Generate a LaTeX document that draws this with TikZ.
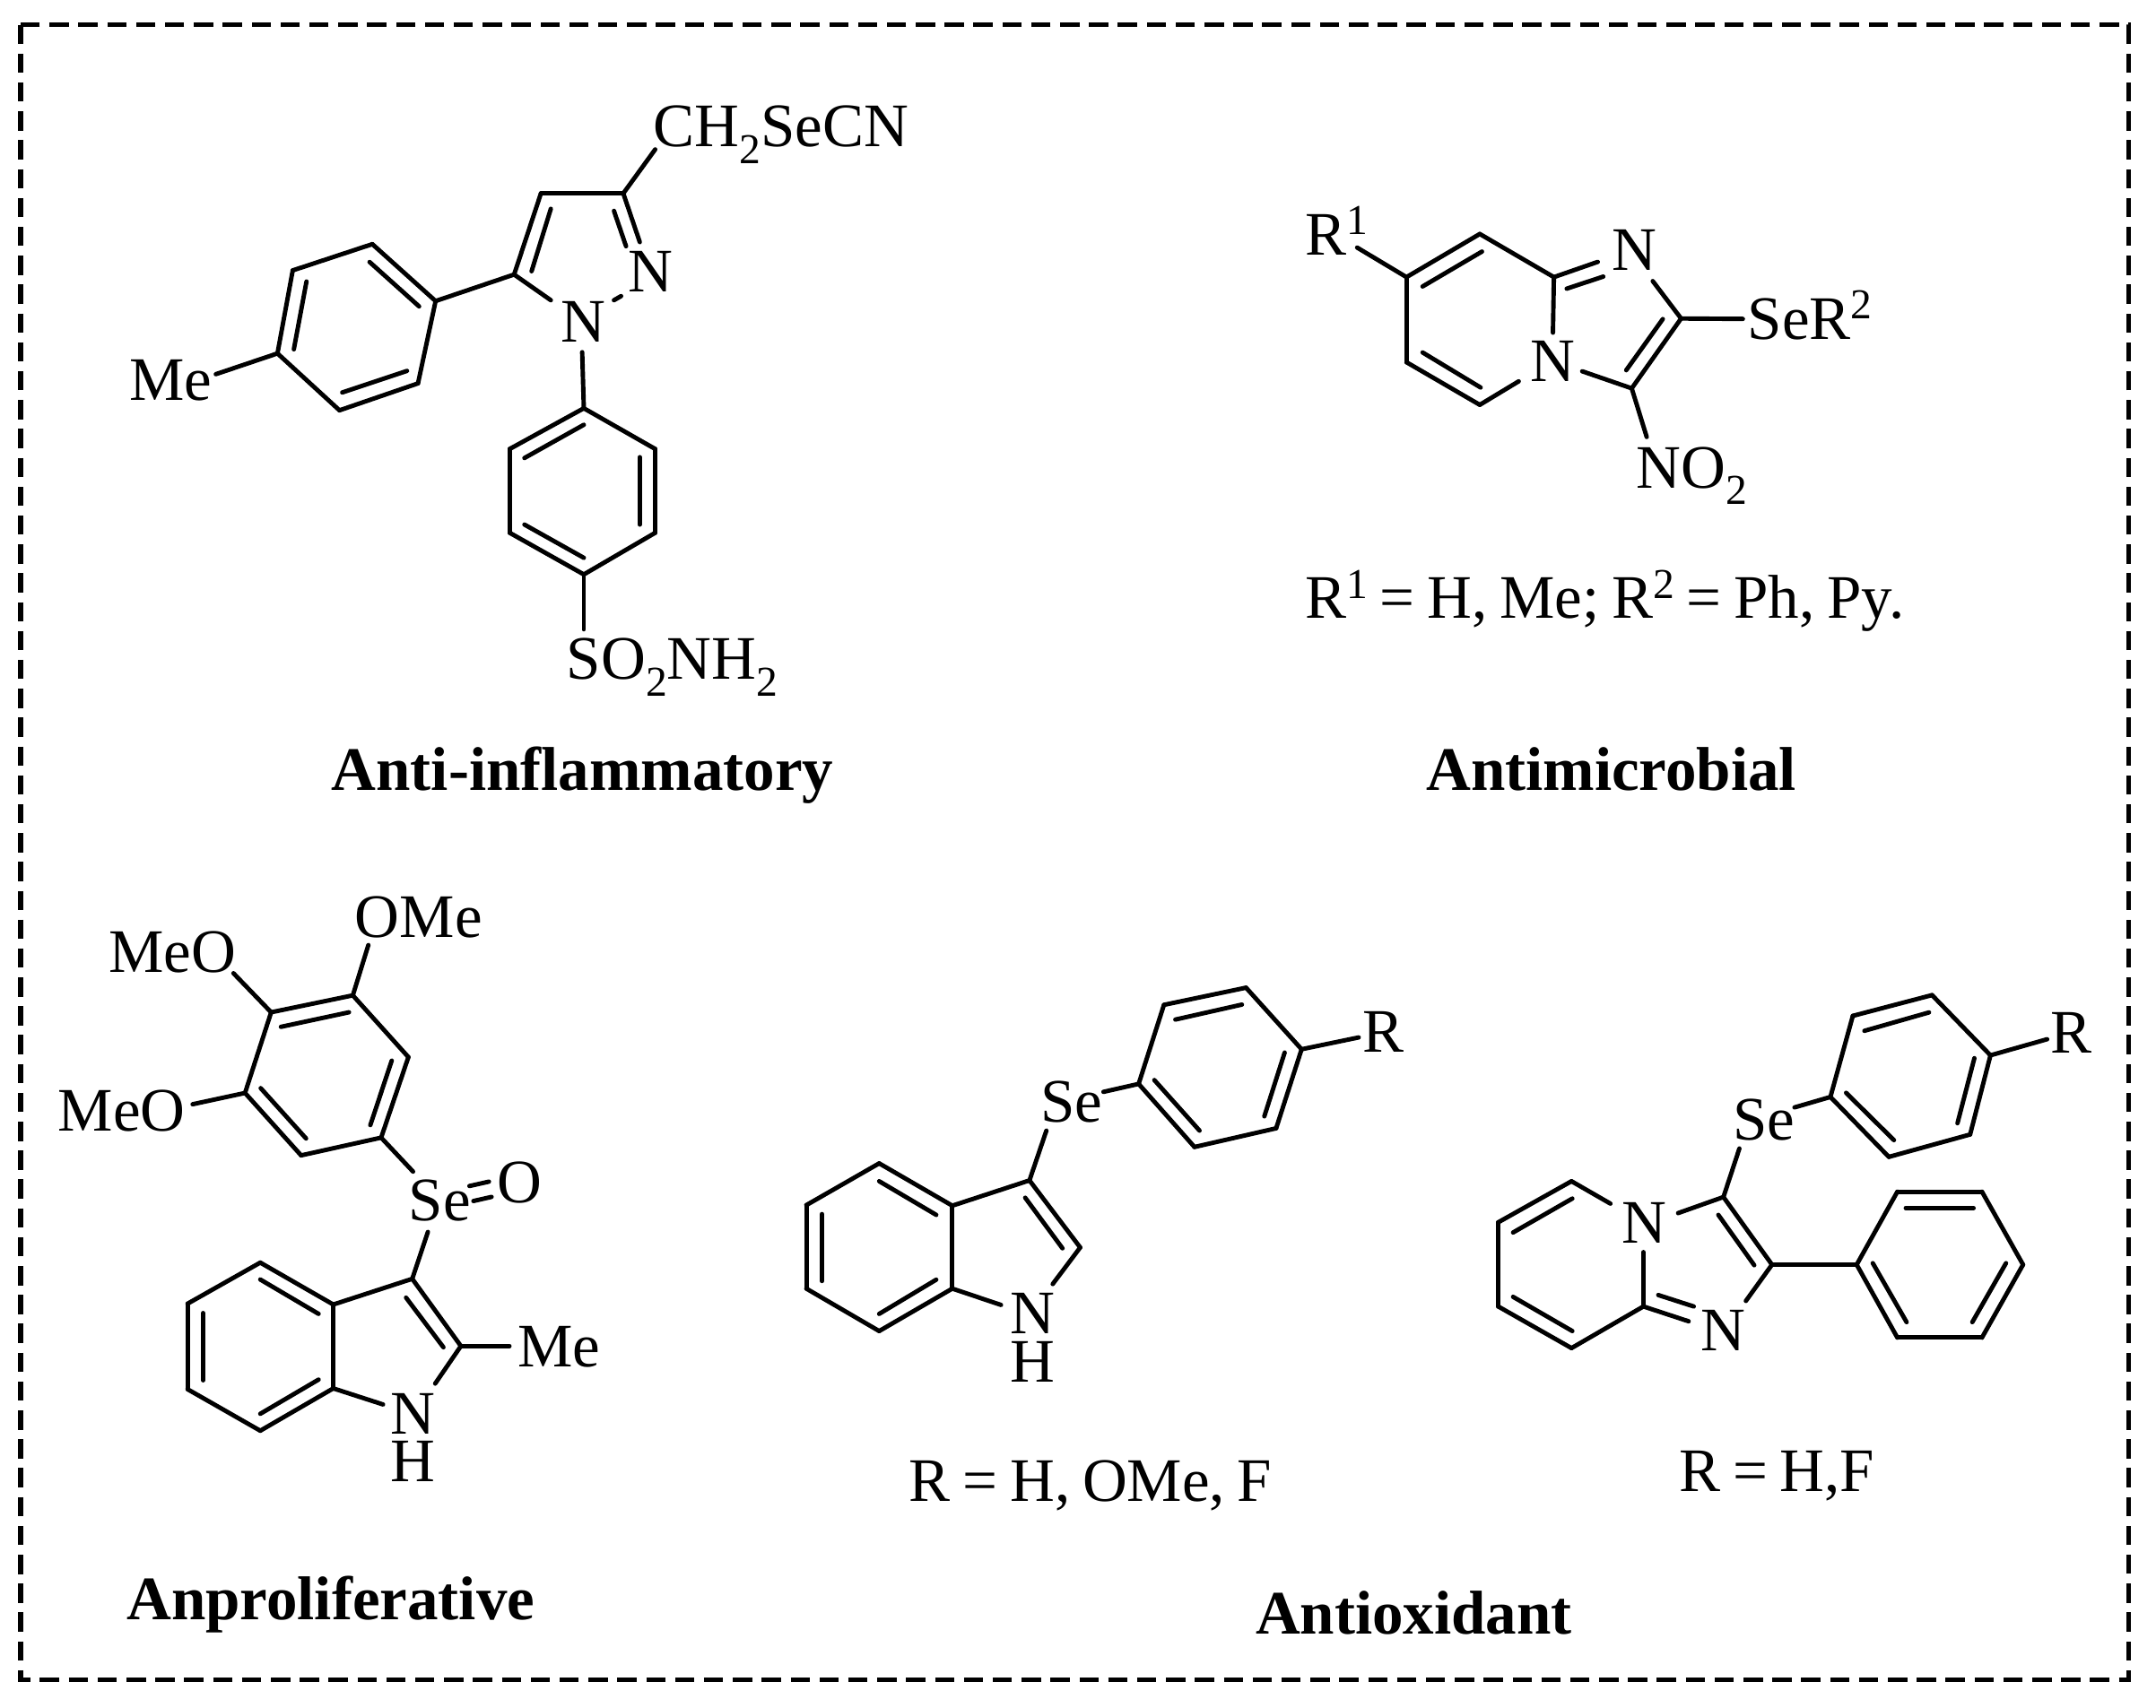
\documentclass[tikz,border=0pt]{standalone}
\usepackage{fontspec}
\setmainfont{Liberation Serif}
\newcommand{\dn}[1]{\raisebox{-0.27em}{\fontsize{31}{31}\selectfont #1}}
\newcommand{\up}[1]{\raisebox{0.33em}{\fontsize{31}{31}\selectfont #1}}
\tikzset{
  bond/.style={line width=3.2pt, line cap=round},
  frame/.style={line width=3.4pt, dash pattern=on 14pt off 7pt},
  atom/.style={inner sep=0pt, anchor=base west, font=\fontsize{45}{35}\selectfont},
  subst/.style={atom, execute at begin node={\spaceskip=0.2em\relax}},
  title/.style={inner sep=0pt, anchor=base west, font=\fontsize{45}{45}\selectfont\bfseries}
}
\begin{document}
\begin{tikzpicture}[x=1pt, y=-1pt]
  \useasboundingbox (0,0) rectangle (1568,1242.5);
  % Draw the dashed frame
  \draw[frame] (15,18) rectangle (1548,1222);

  % Anti-inflammatory molecule
  \foreach \pn/\px/\py in {a1/393.4/140.7, a2/453.3/140.7, a3/373.9/199.7, a4/476.5/108.7, a5/465.3/176.1,
    a6/446.5/153.4, a7/455.3/179.1, a8/400.6/151.9, a9/386.6/197.3, a10/400.6/218.4, a11/446.5/218.4, a12/451.7/215.4,
    a13/316.8/219, a14/270.8/177.6, a15/212.9/196.7, a16/201.8/257.1, a17/246.9/298.5, a18/304/278.9,
    a19/268.8/190.6, a20/304.8/222.9, a21/222.9/204.8, a22/213.7/254.1, a23/248.9/285.5, a24/296/269.8,
    a25/157/272.2, a26/423.4/256.2, a27/424.6/297, a28/476.5/326.6, a29/476.5/387.6, a30/424.6/417.9,
    a31/370.7/387.6, a32/370.7/326.6, a33/424.6/309, a34/381.4/333.2, a35/465.3/332.6, a36/465.3/381.6,
    a37/381.4/381.6, a38/424.6/405.8, a39/424.6/457.8}
    \coordinate (\pn) at (\px,\py);
  \foreach \pa/\pb in {a1/a2, a1/a3, a2/a4, a2/a5, a6/a7, a8/a9, a3/a10, a11/a12, a3/a13,
    a13/a14, a14/a15, a15/a16, a16/a17, a17/a18, a18/a13, a19/a20, a21/a22, a23/a24, a16/a25,
    a26/a27, a27/a28, a28/a29, a29/a30, a30/a31, a31/a32, a32/a27, a33/a34, a35/a36, a37/a38, a30/a39}
    \draw[bond] (\pa) -- (\pb);
  \node[atom] (aCH) at (475,106.6) {CH\dn{2}SeCN};
  \node[atom] (aNa) at (407.8,248.6) {N};
  \node[atom] (aNb) at (456.5,212.4) {N};
  \node[atom] (aMe) at (94,291) {Me};
  \node[atom] (aSO) at (412,494) {SO\dn{2}NH\dn{2}};
  \node[title] (aTitle) at (241,575) {Anti-inflammatory};

  % Antimicrobial molecule
  \foreach \pn/\px/\py in {b1/1022.9/201.6, b2/1076.2/170.2, b3/1130.1/201.6, b4/1222.6/231.7, b5/1186.7/282.5,
    b6/1076.2/294.5, b7/1022.9/263.5, b8/987/180.1, b9/1034.6/208.4, b10/1077.8/183, b11/1162/190.5,
    b12/1139.4/210, b13/1166/201.2, b14/1129.4/242, b15/1202/204.5, b16/1209.3/232.1, b17/1182.7/269.3,
    b18/1150.7/270.1, b19/1267.5/232, b20/1197.6/317.9, b21/1104.5/277.4, b22/1076.8/281.9, b23/1034.6/256.4}
    \coordinate (\pn) at (\px,\py);
  \foreach \pa/\pb in {b8/b1, b1/b2, b2/b3, b3/b11, b12/b13, b3/b14, b15/b4, b4/b5, b16/b17, b18/b5,
    b4/b19, b5/b20, b21/b6, b6/b7, b7/b1, b9/b10, b22/b23}
    \draw[bond] (\pa) -- (\pb);
  \node[atom] (bRa) at (949,185.7) {R\up{1}};
  \node[atom] (bNa) at (1172,196.7) {N};
  \node[atom] (bNb) at (1112.8,277.4) {N};
  \node[atom] (bSe) at (1271,246.9) {SeR\up{2}};
  \node[atom] (bNO) at (1190,355) {NO\dn{2}};
  \node[subst] (bSub) at (949,449.9) {R\up{1} = H, Me; R\up{2} = Ph, Py.};
  \node[title] (bTitle) at (1037,575) {Antimicrobial};

  % Anproliferative molecule
  \foreach \pn/\px/\py in {c1/256.6/724.1, c2/297/769, c3/277.2/827.6, c4/219/840.5, c5/178.2/795.1, c6/197.2/736.4,
    c7/204.3/747, c8/253.8/736.4, c9/284.9/771.6, c10/269.3/818.5, c11/222.6/828.2, c12/189.6/791.6,
    c13/267.9/687.5, c14/169.8/708, c15/140.1/803.3, c16/300.4/852.3, c17/341.4/862.8, c18/355.6/859.6,
    c19/344.3/873.7, c20/357.5/870.7, c21/311.2/896.2, c22/299.8/930.3, c23/335.2/979.2, c24/242.4/949,
    c25/242.4/1010, c26/189.3/918.5, c27/136.4/948.4, c28/136.4/1010.6, c29/189.3/1040.8,
    c30/189.3/930.8, c31/231.7/955.8, c32/147.7/955.2, c33/147.7/1004.1, c34/189.3/1028.5, c35/231.7/1003.6,
    c36/295.3/944, c37/322.5/980.1, c38/370.5/979.2, c39/316.5/1006.5, c40/278.6/1021.7}
    \coordinate (\pn) at (\px,\py);
  \foreach \pa/\pb in {c1/c2, c2/c3, c3/c4, c4/c5, c5/c6, c6/c1, c7/c8, c9/c10, c11/c12, c1/c13, c6/c14, c5/c15,
    c3/c16, c17/c18, c19/c20, c21/c22, c22/c23, c22/c24, c24/c25, c24/c26, c26/c27, c27/c28, c28/c29, c29/c25,
    c30/c31, c32/c33, c34/c35, c36/c37, c23/c38, c23/c39, c25/c40}
    \draw[bond] (\pa) -- (\pb);
  \node[atom] (cOMe) at (258,681.6) {OMe};
  \node[atom] (cMeOa) at (79,707.1) {MeO};
  \node[atom] (cMeOb) at (42,823) {MeO};
  \node[atom] (cSe) at (297,887.7) {Se};
  \node[atom] (cO) at (361.5,875.1) {O};
  \node[atom] (cMe) at (376.2,994.5) {Me};
  \node[atom, align=center] (cNH) at (284,1078) {N\\H};
  \node[title] (cTitle) at (92,1178) {Anproliferative};

  % Antioxidant molecule with the indole
  \foreach \pn/\px/\py in {d1/639.4/846.3, d2/692.6/877.1, d3/692.6/937.4, d4/639.4/968.3, d5/586.4/937.4, d6/586.4/876.7,
    d7/639.4/859.3, d8/680.9/883.8, d9/597.8/883.2, d10/597.8/931.9, d11/639.4/955.8, d12/680.9/930.9,
    d13/748.7/858.7, d14/785.6/907.5, d15/745.6/871.3, d16/772.7/908.1, d17/765.6/934.1, d18/728/949.3,
    d19/761/822.5, d20/802.5/794.3, d21/828.1/788.5, d22/846.5/731, d23/906.2/718.5, d24/946.6/763.3,
    d25/928.1/820.8, d26/868.7/834.4, d27/854.8/741.7, d28/903.2/730.8, d29/934.3/765.7, d30/919.5/812.1,
    d31/872.4/822.5, d32/839.5/785.7, d33/988.1/754.7}
    \coordinate (\pn) at (\px,\py);
  \foreach \pa/\pb in {d1/d2, d2/d3, d3/d4, d4/d5, d5/d6, d6/d1, d7/d8, d9/d10, d11/d12, d2/d13, d13/d14, d15/d16,
    d14/d17, d3/d18, d13/d19, d20/d21, d21/d22, d22/d23, d23/d24, d24/d25, d25/d26, d26/d21, d27/d28, d29/d30, d31/d32, d24/d33}
    \draw[bond] (\pa) -- (\pb);
  \node[atom] (dSe) at (756.5,816) {Se};
  \node[atom] (dR) at (990.7,765.5) {R};
  \node[atom, align=center] (dNH) at (734.5,1005.2) {N\\H};
  \node[subst] (dSub) at (661,1092) {R = H, OMe, F};

  % Antioxidant molecule with the imidazopyridine
  \foreach \pn/\px/\py in {e1/1142.9/859.3, e2/1089.6/889.2, e3/1089.6/950.4, e4/1142.9/980.7, e5/1195.2/950.4,
    e6/1171.2/875.6, e7/1143.5/871.9, e8/1100.4/896.6, e9/1100.4/943.4, e10/1143.5/968.3, e11/1195.2/910.9,
    e12/1253.4/870.8, e13/1288.7/920, e14/1220.4/882.5, e15/1269.7/946.4, e16/1228.1/961.2, e17/1206/942.1,
    e18/1231.8/950.4, e19/1249.7/883.8, e20/1275.8/920.4, e21/1350.3/920, e22/1379.9/866.9, e23/1441.4/866.9,
    e24/1471.3/920, e25/1441.4/973.1, e26/1379.9/973.1, e27/1386/878.8, e28/1435.3/878.8, e29/1458.9/918.9,
    e30/1434.4/961.8, e31/1362/918.9, e32/1386.6/961.8, e33/1265/835.5, e34/1305.1/805.6, e35/1331.2/798,
    e36/1347.5/739, e37/1405.1/723.9, e38/1447.6/767.7, e39/1432.8/825.3, e40/1373.7/841.6, e41/1355.9/749.9,
    e42/1402.9/736.5, e43/1435.9/769.8, e44/1423.6/817.1, e45/1377.4/829.4, e46/1342.6/795, e47/1488.8/756}
    \coordinate (\pn) at (\px,\py);
  \foreach \pa/\pb in {e6/e1, e1/e2, e2/e3, e3/e4, e4/e5, e7/e8, e9/e10, e5/e11, e14/e12, e12/e13, e13/e15, e5/e16,
    e17/e18, e19/e20, e13/e21, e21/e22, e22/e23, e23/e24, e24/e25, e25/e26, e26/e21, e27/e28, e29/e30, e31/e32,
    e12/e33, e34/e35, e35/e36, e36/e37, e37/e38, e38/e39, e39/e40, e40/e35, e41/e42, e43/e44, e45/e46, e38/e47}
    \draw[bond] (\pa) -- (\pb);
  \node[atom] (eNa) at (1179.5,904.2) {N};
  \node[atom] (eNb) at (1237,982.9) {N};
  \node[atom] (eSe) at (1260,829) {Se};
  \node[atom] (eR) at (1491.4,766.2) {R};
  \node[subst] (eSub) at (1221,1085) {R = H,F};

  \node[title] (dTitle) at (913,1189) {Antioxidant};
\end{tikzpicture}
\end{document}
